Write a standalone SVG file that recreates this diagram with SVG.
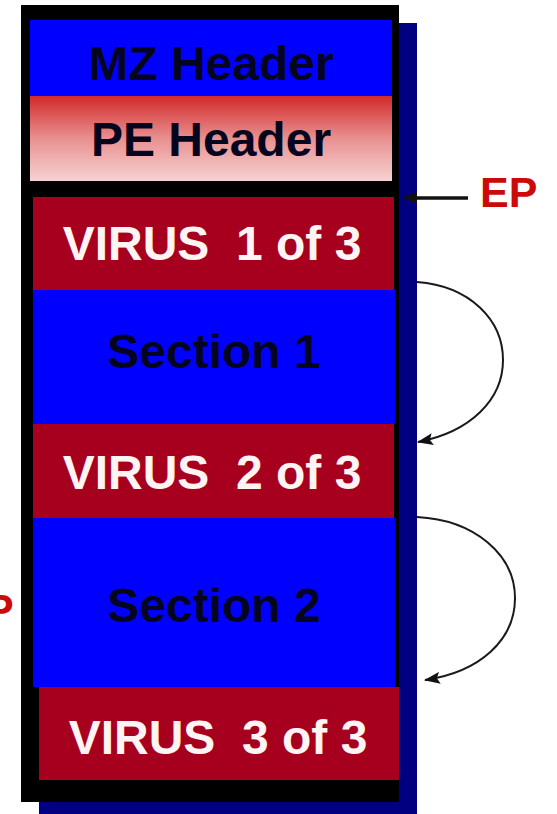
<svg xmlns="http://www.w3.org/2000/svg" width="557" height="814" viewBox="0 0 557 814">
<defs>
<linearGradient id="peGrad" x1="0" y1="0" x2="0" y2="1">
<stop offset="0" stop-color="#d22a2a"/>
<stop offset="0.5" stop-color="#e99090"/>
<stop offset="1" stop-color="#f6d2d2"/>
</linearGradient>
<marker id="arr" viewBox="0 0 16 12" refX="15" refY="6" markerWidth="16" markerHeight="12" markerUnits="userSpaceOnUse" orient="auto">
<path d="M0,0 L16,6 L0,12 L3,6 Z" fill="#111"/>
</marker>
<marker id="arrEP" viewBox="0 0 14 12" refX="13" refY="6" markerWidth="14" markerHeight="12" markerUnits="userSpaceOnUse" orient="auto">
<path d="M0,0 L14,6 L0,12 Z" fill="#111"/>
</marker>
</defs>
<style>
.lbl{font-family:"Liberation Sans",Arial,sans-serif;font-weight:bold;font-size:48px;text-anchor:middle;white-space:pre}
.dark{fill:#050520}
.light{fill:#fff4f4}
.blue{fill:#0000ff}
.red{fill:#a6001e}
.ep{font-family:"Liberation Sans",Arial,sans-serif;font-weight:bold;font-size:43px;fill:#cc0a0a}
.conn{fill:none;stroke:#1a1a1a;stroke-width:2}
.conn-ep{fill:none;stroke:#111;stroke-width:3.5}
</style>
<g id="frame">
<rect x="39" y="23" width="378" height="791" fill="#000080"/>
<rect x="21" y="5" width="378" height="797" fill="#000"/>
</g>
<g id="mz-header">
<rect class="blue" x="30" y="20" width="362" height="76"/>
<text class="lbl dark" x="211" y="80">MZ Header</text>
</g>
<g id="pe-header">
<rect x="30" y="96" width="362" height="85" fill="url(#peGrad)"/>
<text class="lbl dark" x="211" y="156">PE Header</text>
</g>
<g id="virus1">
<rect class="red" x="33" y="197" width="361" height="93"/>
<text class="lbl light" x="212" y="260">VIRUS  1 of 3</text>
</g>
<g id="section1">
<rect class="blue" x="33" y="290" width="362" height="134"/>
<text class="lbl dark" x="214" y="368">Section 1</text>
</g>
<g id="virus2">
<rect class="red" x="33" y="424" width="361" height="94"/>
<text class="lbl light" x="212" y="489">VIRUS  2 of 3</text>
</g>
<g id="section2">
<rect class="blue" x="33" y="518" width="362" height="169"/>
<text class="lbl dark" x="214" y="622">Section 2</text>
</g>
<g id="virus3">
<rect class="red" x="39" y="687" width="360" height="93"/>
<text class="lbl light" x="218" y="754">VIRUS  3 of 3</text>
</g>
<g id="ep-label">
<text class="ep" x="480" y="207">EP</text>
</g>
<g id="old-ep-label">
<text class="ep" x="-15" y="624">P</text>
</g>
<g id="connectors">
<line class="conn-ep" x1="468" y1="198" x2="404" y2="198" marker-end="url(#arrEP)"/>
<path class="conn" d="M417,282 C470,286 503,320 503,360 C503,400 470,432 418,442" marker-end="url(#arr)"/>
<path class="conn" d="M417,517 C475,520 515,555 515,598 C515,640 480,672 425,680" marker-end="url(#arr)"/>
</g>
</svg>
